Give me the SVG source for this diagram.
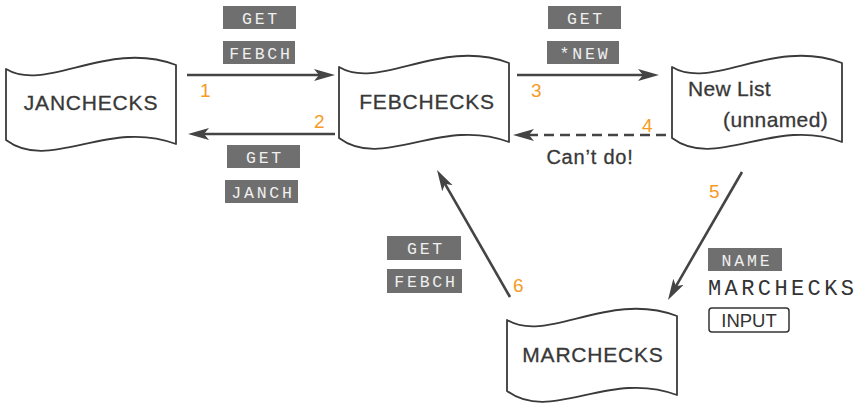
<svg xmlns="http://www.w3.org/2000/svg" width="865" height="406" viewBox="0 0 865 406">
  <style>
    .doc { fill: #ffffff; stroke: #3a3a3a; stroke-width: 1.8; stroke-linejoin: round; }
    .lbl { font-family: "Liberation Sans", Arial, sans-serif; font-size: 21px; fill: #383838; stroke: #383838; stroke-width: 0.3; letter-spacing: 0.8px; }
    .num { font-family: "Liberation Sans", Arial, sans-serif; font-size: 19px; fill: #f59a23; }
    .key rect { fill: #6f6f6f; }
    .key text { font-family: "Liberation Mono", "DejaVu Sans Mono", monospace; font-size: 16.5px; fill: #f0f0f0; letter-spacing: 2.8px; text-anchor: middle; }
    .mono { font-family: "Liberation Mono", "DejaVu Sans Mono", monospace; font-size: 22px; fill: #333333; letter-spacing: 3.4px; }
    .conn { stroke: #444444; stroke-width: 2.6; fill: none; }
    .dash { stroke-dasharray: 10 6; }
  </style>
  <defs>
    <path id="docshape" d="M0,4 C40,28 102,-26 170,0 L170,79 C102,53 44,108 0,75 Z"/>
    <marker id="ah" markerUnits="userSpaceOnUse" markerWidth="22" markerHeight="14" refX="9" refY="7" orient="auto">
      <path d="M0,1 L21,7 L0,13 L5,7 Z" fill="#444444"/>
    </marker>
  </defs>

  <g id="janchecks">
    <use href="#docshape" class="doc" transform="translate(6,65)"/>
    <text class="lbl" x="91" y="110" text-anchor="middle">JANCHECKS</text>
  </g>

  <g id="febchecks">
    <use href="#docshape" class="doc" transform="translate(339,63)"/>
    <text class="lbl" x="427" y="109" text-anchor="middle">FEBCHECKS</text>
  </g>

  <g id="newlist">
    <use href="#docshape" class="doc" transform="translate(672,63)"/>
    <text class="lbl" x="688" y="96" style="letter-spacing:0.3px">New List</text>
    <text class="lbl" x="723" y="127" style="letter-spacing:0.4px">(unnamed)</text>
  </g>

  <g id="marchecks">
    <use href="#docshape" class="doc" transform="translate(507,316)"/>
    <text class="lbl" x="593" y="362" text-anchor="middle">MARCHECKS</text>
  </g>

  <g id="connectors">
    <line class="conn" x1="187" y1="75" x2="323" y2="75" marker-end="url(#ah)"/>
    <line class="conn" x1="335" y1="134" x2="200" y2="134" marker-end="url(#ah)"/>
    <line class="conn" x1="517" y1="75" x2="647" y2="75" marker-end="url(#ah)"/>
    <line class="conn dash" x1="666" y1="135" x2="525" y2="135" marker-end="url(#ah)"/>
    <line class="conn" x1="742" y1="172" x2="674" y2="289.6" marker-end="url(#ah)"/>
    <line class="conn" x1="510" y1="297" x2="443" y2="180.4" marker-end="url(#ah)"/>
  </g>

  <g id="numbers">
    <text class="num" x="200" y="97">1</text>
    <text class="num" x="314" y="128">2</text>
    <text class="num" x="531" y="97">3</text>
    <text class="num" x="642" y="132">4</text>
    <text class="num" x="709" y="198">5</text>
    <text class="num" x="513" y="292">6</text>
  </g>

  <g id="cantdo">
    <text class="lbl" x="590" y="164" text-anchor="middle" style="font-size:20px">Can’t do!</text>
  </g>

  <g id="keys1" class="key">
    <rect x="223" y="6" width="73" height="23"/>
    <text x="261" y="23.5">GET</text>
    <rect x="223" y="41" width="72" height="23"/>
    <text x="261" y="58.5">FEBCH</text>
  </g>
  <g id="keys2" class="key">
    <rect x="227" y="145" width="73" height="23"/>
    <text x="265" y="162.5">GET</text>
    <rect x="225" y="180" width="73" height="23"/>
    <text x="263" y="197.5">JANCH</text>
  </g>
  <g id="keys3" class="key">
    <rect x="548" y="6" width="73" height="23"/>
    <text x="586" y="23.5">GET</text>
    <rect x="547" y="41" width="72" height="23"/>
    <text x="585" y="58.5">*NEW</text>
  </g>
  <g id="keys6" class="key">
    <rect x="387" y="236" width="74" height="24"/>
    <text x="426" y="253.5">GET</text>
    <rect x="387" y="269" width="75" height="24"/>
    <text x="426" y="287">FEBCH</text>
  </g>
  <g id="keys5">
    <g class="key">
      <rect x="708" y="248" width="74" height="23"/>
      <text x="747" y="265.5">NAME</text>
    </g>
    <text class="mono" x="708" y="295">MARCHECKS</text>
    <rect x="709" y="308" width="80" height="24" rx="3" fill="none" stroke="#333333" stroke-width="1.5"/>
    <text x="749" y="327" text-anchor="middle" style="font-family:'Liberation Sans', Arial, sans-serif; font-size:18.5px; fill:#333333">INPUT</text>
  </g>
</svg>
